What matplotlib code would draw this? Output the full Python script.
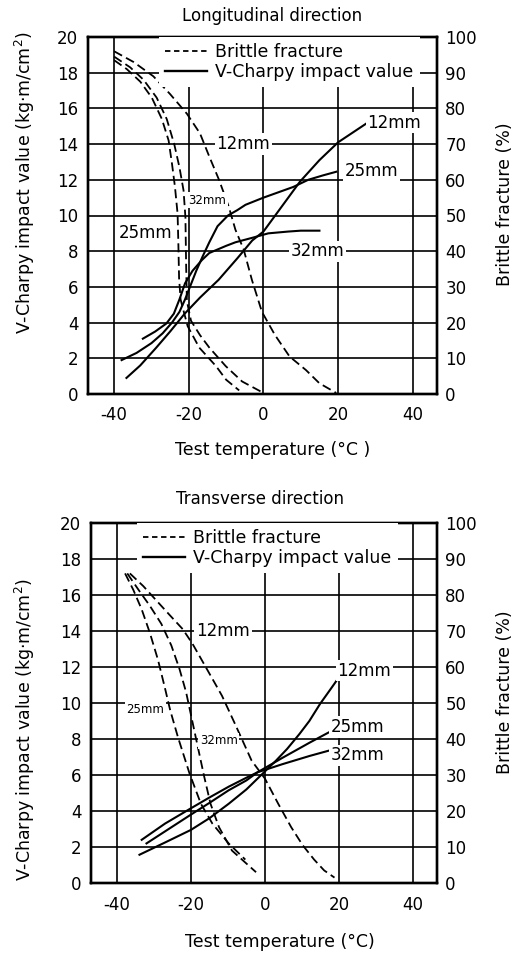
import matplotlib
matplotlib.use("Agg")
import matplotlib.pyplot as plt
from matplotlib.lines import Line2D

plt.rcParams['font.family'] = ['DejaVu Sans']
plt.rcParams['axes.unicode_minus'] = False

# ---- Longitudinal direction ----
# V-Charpy impact value (kg-m/cm2)
lon_12_x = [-36.7, -33, -28.7, -25, -21.1, -17, -12, -7, -3, 0, 4.2, 9.8, 15, 20, 27.9]
lon_12_y = [0.9, 1.6, 2.6, 3.5, 4.5, 5.4, 6.4, 7.6, 8.6, 9.1, 10.3, 11.9, 13.1, 14.1, 15.2]
lon_25_x = [-38, -34, -30, -27, -24.5, -22.5, -21, -19.5, -18, -16.3, -14.5, -12.3, -9.5,
            -7, -4.8, 0, 4, 8, 12, 16, 19.5]
lon_25_y = [1.9, 2.3, 2.85, 3.4, 4.0, 4.6, 5.3, 6.1, 6.9, 7.7, 8.5, 9.4, 10.0,
            10.3, 10.6, 11.0, 11.3, 11.6, 12.0, 12.25, 12.45]
lon_32_x = [-32.3, -29, -26, -24, -22.5, -21, -19, -16.5, -14.5, -10, -7.5, -3, 1.3, 6.6, 10, 15]
lon_32_y = [3.1, 3.5, 3.95, 4.5, 5.3, 6.2, 6.9, 7.5, 7.9, 8.3, 8.5, 8.75, 9.0, 9.1, 9.15, 9.15]
# brittle fracture (%)
lon_bf12_x = [-40, -34.8, -29.5, -25, -20.5, -17, -14.5, -11.9, -9.3, -7.5, -5.3, -3.1,
              -0.4, 3.1, 7, 11.4, 15, 19.5]
lon_bf12_y = [96, 93, 89, 84, 78.5, 73, 66.5, 60, 52.5, 46, 40.5, 32, 23, 16.5, 10.5, 6.7, 3, 0.3]
lon_bf25_x = [-40, -36.6, -33, -29.9, -27.2, -25.4, -24.5, -23.7, -23, -22.8, -22.6, -22.2,
              -21.2, -20.3, -17.2, -12.7, -10, -6.5]
lon_bf25_y = [93.5, 91, 87.5, 83, 77, 71, 64.5, 58, 50.5, 42.5, 32.5, 26.5, 22.5, 19, 13, 7.8, 4, 1]
lon_bf32_x = [-40, -35.7, -32.1, -28.6, -25.9, -23.9, -22.5, -21.4, -20.9, -20.7, -20.5,
              -19.4, -17, -14.5, -10.1, -5.7, 0]
lon_bf32_y = [94.5, 91.5, 88, 83, 77, 70, 63.5, 57, 49.5, 35.5, 26, 20.5, 16.5, 13, 7.8, 3.5, 0.3]

# ---- Transverse direction ----
tr_12_x = [-33.9, -27, -20, -15, -9.8, -5, -2, 0, 3, 6, 9.3, 12, 14.9, 17.5, 19.7]
tr_12_y = [1.57, 2.25, 2.95, 3.6, 4.4, 5.2, 5.8, 6.2, 6.8, 7.45, 8.27, 9.0, 9.95, 10.7, 11.34]
tr_25_x = [-32, -26, -20, -15, -9.8, -5, -2, 4.7, 12.1, 18.1]
tr_25_y = [2.2, 3.0, 3.8, 4.45, 5.15, 5.7, 6.15, 6.95, 7.8, 8.46]
tr_32_x = [-33.3, -27, -20, -15, -9.8, -5, -2, 4.7, 12.1, 18.1]
tr_32_y = [2.4, 3.3, 4.15, 4.75, 5.35, 5.85, 6.15, 6.6, 7.06, 7.4]
tr_bf12_x = [-36.5, -32.9, -29.8, -25.8, -22.2, -19.6, -16, -11.6, -8, -3.6, 0, 3.6, 7.1,
             10.2, 13.3, 16, 18.8]
tr_bf12_y = [86, 82.5, 79, 74.5, 70.5, 66.5, 60, 52, 44, 34, 29, 22, 15.5, 10.5, 6.5, 3.5, 1.5]
tr_bf25_x = [-37.8, -35.6, -33.3, -31.1, -28.9, -27.1, -25.6, -23.5, -20.4, -17.3, -14.2, -9.8, -5.3]
tr_bf25_y = [86, 81.5, 76, 69.5, 62, 54.5, 48, 40.5, 30.5, 22, 16.5, 11, 6.5]
tr_bf32_x = [-37.2, -34.2, -31.1, -28, -25.3, -23.1, -21.3, -18.7, -16.4, -14.7, -12.4, -8.9, -2.4]
tr_bf32_y = [86, 81.5, 77, 72, 66, 59.5, 53, 40.5, 29.5, 22, 15.5, 9, 3]

left_ticks = list(range(0, 21, 2))
right_ticks = list(range(0, 101, 10))
x_ticks = [-40, -20, 0, 20, 40]

DASH = (0, (5, 2.5))
TS = 12


def panel(rect, charpy, brittle, labels, leg_anchor):
    ax = fig.add_axes(rect)
    ax.set_xlim(-47, 46.5)
    ax.set_ylim(0, 20)
    ax.set_xticks(x_ticks)
    ax.set_yticks(left_ticks)
    ax.grid(True, color='black', lw=1.2)
    ax.tick_params(length=0, labelsize=TS, pad=7)
    ax.tick_params(axis='x', pad=9)
    for s in ax.spines.values():
        s.set_linewidth(1.7)
    ax2 = ax.twinx()
    ax2.set_ylim(0, 100)
    ax2.set_yticks(right_ticks)
    ax2.tick_params(length=0, labelsize=TS, pad=6)
    for s in ax2.spines.values():
        s.set_linewidth(1.7)
    for xs, ys in charpy:
        ax2.plot(xs, [v * 5 for v in ys], color='black', lw=1.5)
    for xs, ys in brittle:
        ax2.plot(xs, ys, color='black', lw=1.3, ls=DASH)
    for txt, x, y, ha, fs in labels:
        ax2.text(x, y, txt, transform=ax.transData, ha=ha, va='center', fontsize=fs,
                 bbox=dict(facecolor='white', edgecolor='none', pad=1.2), zorder=4)
    handles = [Line2D([], [], color='black', lw=1.3, ls=(0, (3, 2))),
               Line2D([], [], color='black', lw=1.7)]
    leg = ax2.legend(handles, ['Brittle fracture', 'V-Charpy impact value'],
                     loc='upper left', bbox_to_anchor=leg_anchor, borderaxespad=0,
                     fontsize=12.5, handlelength=2.4, handletextpad=0.5,
                     labelspacing=0.1, borderpad=0.35, frameon=True,
                     fancybox=False, framealpha=1, facecolor='white', edgecolor='none')
    leg.set_zorder(5)
    return ax


fig = plt.figure(figsize=(5.17, 9.56), dpi=100)

panel([88 / 517, 1 - 394 / 956, 349 / 517, 357 / 956],
      [(lon_12_x, lon_12_y), (lon_25_x, lon_25_y), (lon_32_x, lon_32_y)],
      [(lon_bf12_x, lon_bf12_y), (lon_bf25_x, lon_bf25_y), (lon_bf32_x, lon_bf32_y)],
      [('12mm', -12.6, 14.0, 'left', 12), ('12mm', 27.8, 15.2, 'left', 12),
       ('25mm', 21.7, 12.5, 'left', 12), ('32mm', 14.5, 8.0, 'center', 12),
       ('32mm', -15, 10.86, 'center', 8.5), ('25mm', -31.5, 9.0, 'center', 12)],
      (0.203, 1.0))

panel([91 / 517, 1 - 883 / 956, 346 / 517, 360 / 956],
      [(tr_12_x, tr_12_y), (tr_25_x, tr_25_y), (tr_32_x, tr_32_y)],
      [(tr_bf12_x, tr_bf12_y), (tr_bf25_x, tr_bf25_y), (tr_bf32_x, tr_bf32_y)],
      [('12mm', -18.6, 14.0, 'left', 12), ('12mm', 19.6, 11.8, 'left', 12),
       ('25mm', 17.8, 8.66, 'left', 12), ('32mm', 17.8, 7.1, 'left', 12),
       ('25mm', -32.3, 9.66, 'center', 8.5), ('32mm', -12.5, 7.9, 'center', 8.5)],
      (0.133, 1.0))

# titles and axis labels
fig.text(272 / 517, 1 - 16 / 956, 'Longitudinal direction', ha='center', va='center', fontsize=12)
fig.text(260 / 517, 1 - 499 / 956, 'Transverse direction', ha='center', va='center', fontsize=12)
fig.text(273 / 517, 1 - 450 / 956, 'Test temperature (°C )', ha='center', va='center', fontsize=12.5)
fig.text(280 / 517, 1 - 942 / 956, 'Test temperature (°C)', ha='center', va='center', fontsize=12.5)
fig.text(25 / 517, 1 - 183 / 956, 'V-Charpy impact value (kg·m/cm$^2$)', rotation=90,
         ha='center', va='center', fontsize=12.5)
fig.text(25 / 517, 1 - 730 / 956, 'V-Charpy impact value (kg·m/cm$^2$)', rotation=90,
         ha='center', va='center', fontsize=12.5)
fig.text(505 / 517, 1 - 204 / 956, 'Brittle fracture (%)', rotation=90,
         ha='center', va='center', fontsize=12.5)
fig.text(505 / 517, 1 - 692 / 956, 'Brittle fracture (%)', rotation=90,
         ha='center', va='center', fontsize=12.5)

fig.savefig('out.png', dpi=100, facecolor='white')
